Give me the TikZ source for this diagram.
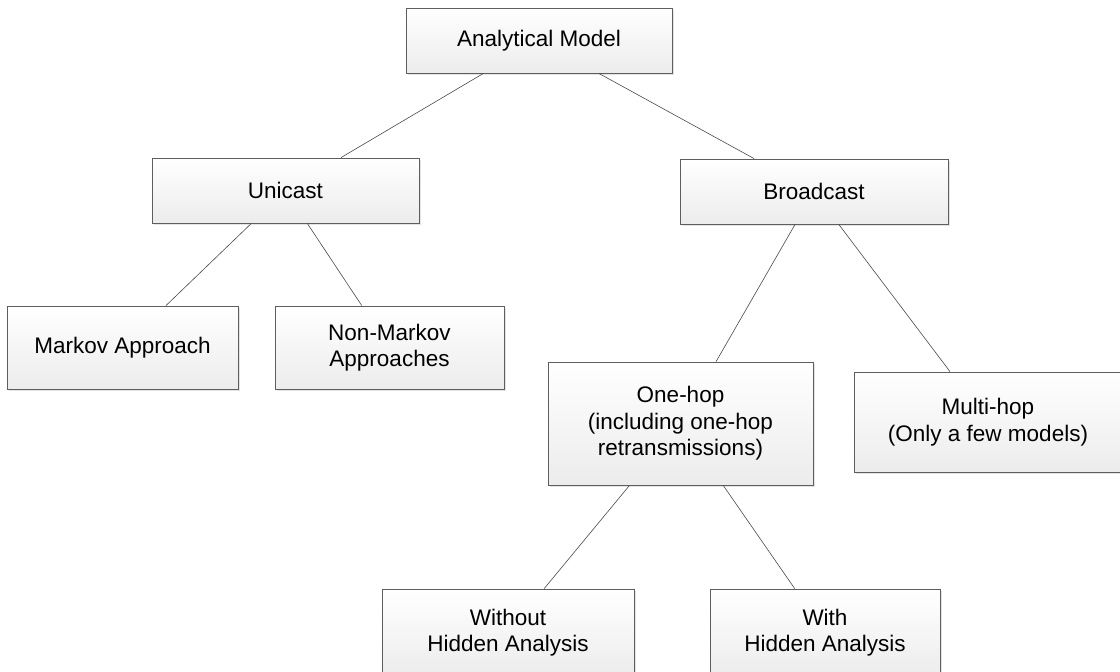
\documentclass[tikz,border=0pt]{standalone}
\usepackage{fontspec}
\setmainfont{Liberation Sans}
\usetikzlibrary{shadows}
\definecolor{boxline}{HTML}{5E5E5E}
\definecolor{linkline}{HTML}{4A4A4A}
\definecolor{boxbottom}{HTML}{ECECEC}
\tikzset{
  treebox/.style={
    rectangle, draw=boxline, line width=0.8pt,
    top color=white, bottom color=boxbottom,
    drop shadow={shadow xshift=1.5pt, shadow yshift=-1.5pt, fill=black!30, opacity=0.35},
    inner sep=0pt, align=center,
    font=\fontsize{22.5}{26.5}\selectfont
  },
  link/.style={draw=linkline, line width=0.6pt}
}
\begin{document}
\begin{tikzpicture}[x=1pt, y=-1pt]
  \clip (0,0) rectangle (1120,672);
  \fill[white] (0,0) rectangle (1120,672);

  % tree nodes, placed by centre, sized in points
  \node[treebox, minimum width=266pt, minimum height=65pt] (am)    at (539,40.5)   {Analytical Model};
  \node[treebox, minimum width=267pt, minimum height=65pt] (uni)   at (285.5,190.5) {Unicast};
  \node[treebox, minimum width=268pt, minimum height=65pt] (bc)    at (814,191.5)  {Broadcast};
  \node[treebox, minimum width=231pt, minimum height=83pt] (mk)    at (122.5,347.5) {Markov Approach};
  \node[treebox, minimum width=229pt, minimum height=83pt] (nmk)   at (389.5,347.5) {Non-Markov\\Approaches};
  \node[treebox, minimum width=265pt, minimum height=123pt] (one)  at (680.5,423.5) {One-hop\\(including one-hop\\retransmissions)};
  \node[treebox, minimum width=268pt, minimum height=100pt] (multi) at (988,422)   {Multi-hop\\(Only a few models)};
  \node[treebox, minimum width=252pt, minimum height=87pt] (wo)    at (508,632.5)  {Without\\Hidden Analysis};
  \node[treebox, minimum width=230pt, minimum height=87pt] (wi)    at (825,632.5)  {With\\Hidden Analysis};

  % connectors between parent and child boxes
  \draw[link] (am) -- (uni);
  \draw[link] (am) -- (bc);
  \draw[link] (uni) -- (mk);
  \draw[link] (uni) -- (nmk);
  \draw[link] (bc) -- (one);
  \draw[link] (bc) -- (multi);
  \draw[link] (one) -- (wo);
  \draw[link] (one) -- (wi);
\end{tikzpicture}
\end{document}
